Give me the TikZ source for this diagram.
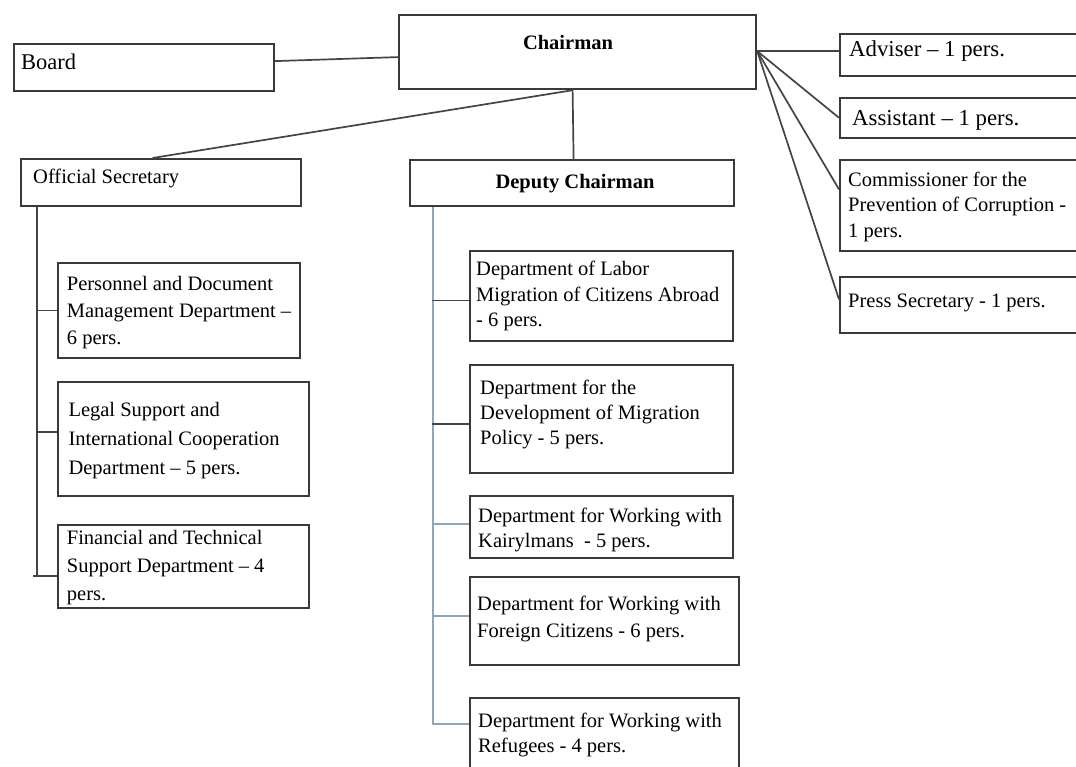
\documentclass[tikz,border=0pt]{standalone}
\usepackage{fontspec}
\setmainfont{Liberation Serif}
\definecolor{boxline}{HTML}{3A3A3A}
\definecolor{conn}{HTML}{444444}
\definecolor{bluegray}{HTML}{8FA5BE}
\begin{document}
\begin{tikzpicture}[x=1pt,y=-1pt,
  box/.style={draw=boxline, line width=2.2pt, fill=white, inner sep=0pt, anchor=north west},
  txt/.style={inner sep=0pt, align=left, text=black, yshift=-2.5pt},
  conline/.style={draw=conn, line width=1.7pt},
  blueline/.style={draw=bluegray, line width=1.9pt}]
\useasboundingbox (0,0) rectangle (1076,767);
\clip (0,0) rectangle (1076,767);
\fill[white] (0,0) rectangle (1076,767);
% boxes
\node[box, minimum width=260pt, minimum height=47pt] (board) at (13,43) {};
\node[box, minimum width=357pt, minimum height=74pt] (chair) at (398,14) {};
\node[box, minimum width=280pt, minimum height=47pt] (offsec) at (20,158) {};
\node[box, minimum width=324pt, minimum height=46pt] (deputy) at (409,159) {};
\node[box, minimum width=260pt, minimum height=42pt] (adviser) at (839,33) {};
\node[box, minimum width=260pt, minimum height=40pt] (assistant) at (839,97) {};
\node[box, minimum width=260pt, minimum height=91pt] (commis) at (839,159) {};
\node[box, minimum width=260pt, minimum height=56pt] (press) at (839,276) {};
\node[box, minimum width=242pt, minimum height=95pt] (pers) at (57,262) {};
\node[box, minimum width=251pt, minimum height=114pt] (legal) at (57,381) {};
\node[box, minimum width=251pt, minimum height=83pt] (fin) at (57,524) {};
\node[box, minimum width=263pt, minimum height=90pt] (labor) at (469,250) {};
\node[box, minimum width=263pt, minimum height=108pt] (policy) at (469,364) {};
\node[box, minimum width=263pt, minimum height=62pt] (kairyl) at (469,495) {};
\node[box, minimum width=269pt, minimum height=88pt] (foreign) at (469,576) {};
\node[box, minimum width=269pt, minimum height=100pt] (refug) at (469,697) {};
% connectors
\draw[conline] ([yshift=6.5pt]board.east) -- ([yshift=-5pt]chair.west);
\draw[conline] ([xshift=-5pt]chair.south) -- ([xshift=-8.5pt]offsec.north);
\draw[conline] ([xshift=-5pt]chair.south) -- ([xshift=1.5pt]deputy.north);
\draw[conline] ([yshift=1pt]chair.east) -- ([yshift=4pt]adviser.west);
\draw[conline] ([yshift=1pt]chair.east) -- ([yshift=0.3pt]assistant.west);
\draw[conline] ([yshift=1pt]chair.east) -- ([yshift=16.2pt]commis.west);
\draw[conline] ([yshift=1pt]chair.east) -- ([yshift=5.7pt]press.west);
% official secretary branch
\coordinate (ot) at ([xshift=-124pt]offsec.south);
\draw[conline] (ot) |- ([yshift=-9.5pt]fin.west);
\draw[conline] ([yshift=-9.5pt]fin.west) -- ++(-24,0);
\draw[conline] (pers.west) -- ++(-21,0);
\draw[conline] ([yshift=7.3pt]legal.west) -- ++(-21,0);
% deputy branch
\coordinate (dt) at ([xshift=-139.3pt]deputy.south);
\draw[blueline] (dt) |- ([yshift=23.7pt]refug.west);
\draw[blueline] ([yshift=2.7pt]kairyl.west) -- ++(-37.3,0);
\draw[blueline] ([yshift=5pt]foreign.west) -- ++(-37.3,0);
\draw[conline] ([yshift=-4.3pt]labor.west) -- ++(-37.3,0);
\draw[conline] ([yshift=-4.7pt]policy.west) -- ++(-37.3,0);
% texts
\node[txt, font=\fontsize{22.5}{26}\selectfont, anchor=base west] (boardT) at (21,67) {Board};
\node[txt, font=\bfseries\fontsize{20.5}{25}\selectfont, anchor=base] (chairT) at (568,47.5) {Chairman};
\node[txt, font=\fontsize{20.5}{25}\selectfont, anchor=base west] (offsecT) at (33,181) {Official Secretary};
\node[txt, font=\bfseries\fontsize{20.5}{25}\selectfont, anchor=base] (deputyT) at (575,186.5) {Deputy Chairman};
\node[txt, font=\fontsize{22.8}{26}\selectfont, anchor=base west] (adviserT) at (849,54.5) {Adviser -- 1 pers.};
\node[txt, font=\fontsize{22.8}{26}\selectfont, anchor=base west] (assistantT) at (852,123) {Assistant -- 1 pers.};
\node[txt, font=\fontsize{20.5}{25.5}\selectfont, anchor=north west] (commisT) at (848,165.75) {\strut Commissioner for the\\Prevention of Corruption -\\1 pers.};
\node[txt, font=\fontsize{20.5}{25.5}\selectfont, anchor=base west] (pressT) at (848,304.6) {Press Secretary - 1 pers.};
\node[txt, font=\fontsize{20.5}{26.7}\selectfont, anchor=north west] (persT) at (66.7,269.3) {\strut Personnel and Document\\Management Department --\\6 pers.};
\node[txt, font=\fontsize{20.5}{28.7}\selectfont, anchor=north west] (legalT) at (68.3,393.9) {\strut Legal Support and\\International Cooperation\\Department -- 5 pers.};
\node[txt, font=\fontsize{20.5}{28}\selectfont, anchor=north west] (finT) at (66.7,521.7) {\strut Financial and Technical\\Support Department -- 4\\pers.};
\node[txt, font=\fontsize{20.5}{25.5}\selectfont, anchor=north west] (laborT) at (476,255.15) {\strut Department of Labor\\Migration of Citizens Abroad\\- 6 pers.};
\node[txt, font=\fontsize{20.5}{25}\selectfont, anchor=north west] (policyT) at (480,373.8) {\strut Department for the\\Development of Migration\\Policy - 5 pers.};
\node[txt, font=\fontsize{20.5}{25}\selectfont, anchor=north west] (kairylT) at (478,502.1) {\strut Department for Working with\\Kairylmans~ - 5 pers.};
\node[txt, font=\fontsize{20.5}{26.6}\selectfont, anchor=north west] (foreignT) at (477,589.4) {\strut Department for Working with\\Foreign Citizens - 6 pers.};
\node[txt, font=\fontsize{20.5}{25}\selectfont, anchor=north west] (refugT) at (478,707.1) {\strut Department for Working with\\Refugees - 4 pers.};
\end{tikzpicture}
\end{document}
